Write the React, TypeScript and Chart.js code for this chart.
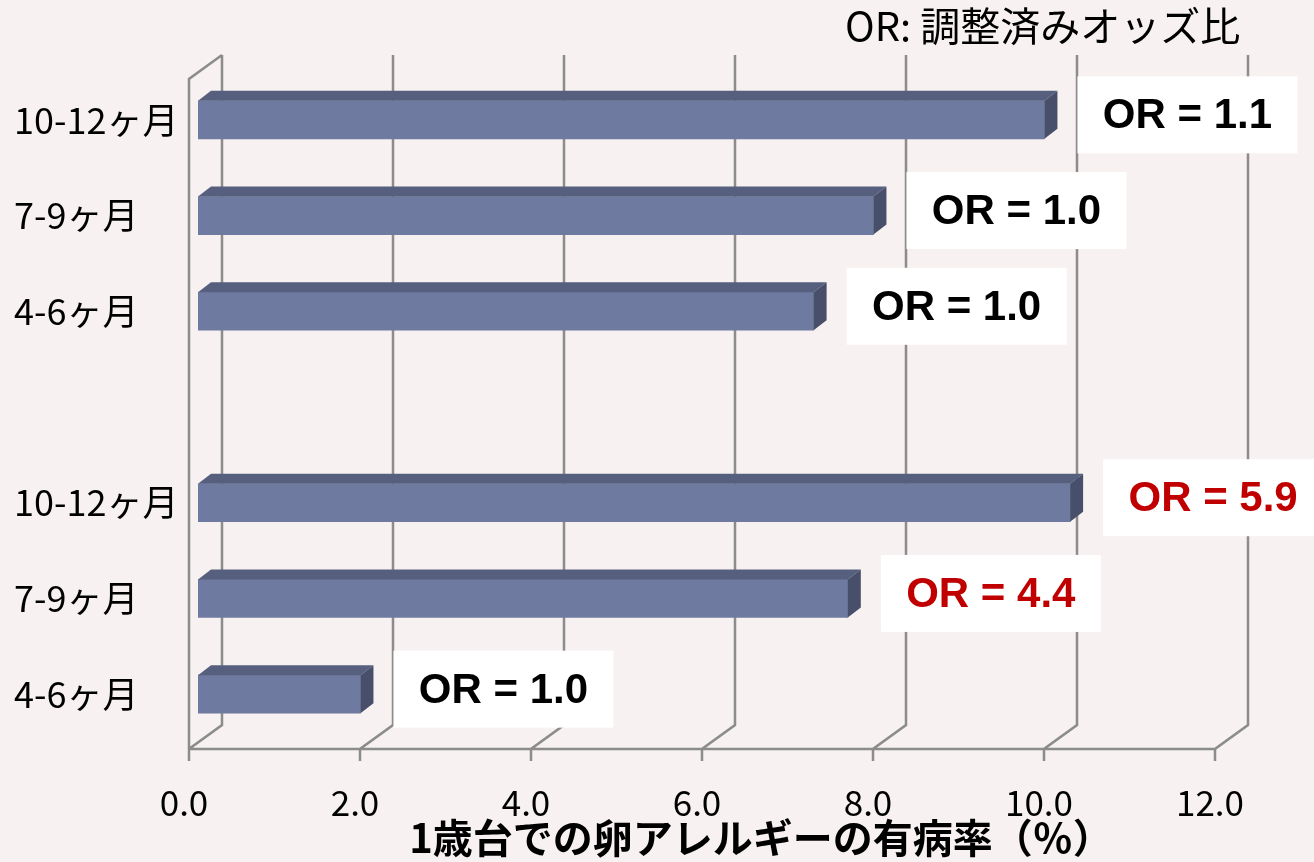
import React, { useEffect, useRef } from "react";
import { Chart, registerables } from "chart.js";

Chart.register(...registerables);

// ---- data ----
const categories = ["10-12ヶ月", "7-9ヶ月", "4-6ヶ月", "", "10-12ヶ月", "7-9ヶ月", "4-6ヶ月"];
const prevalence: (number | null)[] = [9.9, 7.9, 7.2, null, 10.2, 7.6, 1.9];
const orLabels = ["OR = 1.1", "OR = 1.0", "OR = 1.0", "", "OR = 5.9", "OR = 4.4", "OR = 1.0"];
const orSignificant = [false, false, false, false, true, true, false];
const xTicks = [0, 2, 4, 6, 8, 10, 12];
const xTitle = "1歳台での卵アレルギーの有病率（％）";
const noteText = "OR: 調整済みオッズ比";

// ---- style ----
const W = 1314;
const H = 862;
const BG = "#f7f1f1";
const GRID = "#8c8c8c";
const BAR_FRONT = "#6f7aa0";
const BAR_TOP = "#565f7e";
const BAR_SIDE = "#474f6a";
const FRONT = { dx: -9, dy: 7 };
const BACK = { dx: 24, dy: -17 };
const DEPTH = { dx: 13, dy: -10 };
const JP = '"Noto Sans CJK JP", "Noto Sans", sans-serif';

const frame3d = {
  id: "frame3d",
  beforeDraw(chart: any) {
    const { ctx } = chart;
    ctx.save();
    ctx.fillStyle = BG;
    ctx.fillRect(0, 0, chart.width, chart.height);
    ctx.restore();
  },
  beforeDatasetsDraw(chart: any) {
    const { ctx, chartArea: ca } = chart;
    const x = chart.scales.x;
    const backTop = ca.top + BACK.dy;
    const backBottom = ca.bottom + BACK.dy;
    const frontTop = ca.top + FRONT.dy;
    const frontBottom = ca.bottom + FRONT.dy;
    ctx.save();
    ctx.strokeStyle = GRID;
    ctx.lineWidth = 2.5;
    ctx.lineJoin = "miter";
    ctx.beginPath();
    xTicks.forEach((v) => {
      const px = x.getPixelForValue(v);
      ctx.moveTo(px + BACK.dx, backTop);
      ctx.lineTo(px + BACK.dx, backBottom);
      ctx.lineTo(px + FRONT.dx, frontBottom);
      ctx.lineTo(px + FRONT.dx, frontBottom + 12);
    });
    const x0 = x.getPixelForValue(xTicks[0]);
    const xN = x.getPixelForValue(xTicks[xTicks.length - 1]);
    ctx.moveTo(x0 + FRONT.dx, frontBottom);
    ctx.lineTo(xN + FRONT.dx, frontBottom);
    ctx.moveTo(x0 + FRONT.dx, frontBottom);
    ctx.lineTo(x0 + FRONT.dx, frontTop);
    ctx.lineTo(x0 + BACK.dx, backTop);
    ctx.stroke();
    ctx.restore();
  },
  afterDatasetsDraw(chart: any) {
    const { ctx } = chart;
    const meta = chart.getDatasetMeta(0);
    ctx.save();
    meta.data.forEach((el: any, i: number) => {
      if (prevalence[i] == null) return;
      const p = el.getProps(["x", "y", "base", "height"], true);
      const x0 = Math.min(p.base, p.x);
      const x1 = Math.max(p.base, p.x);
      const yT = p.y - p.height / 2;
      const yB = p.y + p.height / 2;
      ctx.fillStyle = BAR_TOP;
      ctx.beginPath();
      ctx.moveTo(x0, yT);
      ctx.lineTo(x0 + DEPTH.dx, yT + DEPTH.dy);
      ctx.lineTo(x1 + DEPTH.dx, yT + DEPTH.dy);
      ctx.lineTo(x1, yT);
      ctx.closePath();
      ctx.fill();
      ctx.fillStyle = BAR_SIDE;
      ctx.beginPath();
      ctx.moveTo(x1, yT);
      ctx.lineTo(x1 + DEPTH.dx, yT + DEPTH.dy);
      ctx.lineTo(x1 + DEPTH.dx, yB + DEPTH.dy);
      ctx.lineTo(x1, yB);
      ctx.closePath();
      ctx.fill();
    });
    meta.data.forEach((el: any, i: number) => {
      if (!orLabels[i]) return;
      const p = el.getProps(["x", "y"], true);
      const bx = p.x + 33;
      const bw = 220;
      const bh = 77;
      const by = p.y - 5 - bh / 2;
      ctx.fillStyle = "#ffffff";
      ctx.fillRect(bx, by, bw, bh);
      ctx.fillStyle = orSignificant[i] ? "#c00000" : "#000000";
      ctx.font = 'bold 42px "Liberation Sans", Arial, sans-serif';
      ctx.textAlign = "center";
      ctx.textBaseline = "middle";
      ctx.fillText(orLabels[i], bx + bw / 2, by + bh / 2 + 2);
    });
    ctx.restore();
  },
  afterDraw(chart: any) {
    const { ctx } = chart;
    ctx.save();
    ctx.fillStyle = "#000";
    ctx.textBaseline = "middle";
    ctx.font = `40px ${JP}`;
    ctx.textAlign = "left";
    ctx.fillText(noteText, 845, 26);
    ctx.font = `bold 40px ${JP}`;
    ctx.textAlign = "center";
    ctx.fillText(xTitle, 761, 838);
    ctx.restore();
  },
};

export default function App() {
  const ref = useRef<HTMLCanvasElement | null>(null);
  useEffect(() => {
    if (!ref.current) return;
    const chart = new Chart(ref.current, {
      type: "bar",
      data: {
        labels: categories,
        datasets: [
          {
            data: prevalence,
            backgroundColor: BAR_FRONT,
            borderWidth: 0,
            barThickness: 38,
          },
        ],
      },
      options: {
        indexAxis: "y",
        animation: false,
        responsive: false,
        devicePixelRatio: 1,
        layout: { padding: { left: 14, right: 90, top: 72, bottom: 0 } },
        plugins: {
          legend: { display: false },
          tooltip: { enabled: false },
          title: { display: false },
        },
        scales: {
          x: {
            min: 0,
            max: 12,
            afterFit: (s: any) => {
              s.height = 120;
            },
            afterBuildTicks: (s: any) => {
              s.ticks = xTicks.map((v) => ({ value: v }));
            },
            grid: { display: false, drawTicks: false },
            border: { display: false },
            ticks: {
              color: "#000",
              font: { family: JP, size: 35 },
              padding: 40,
              labelOffset: -14,
              maxRotation: 0,
              callback: (v: any) => Number(v).toFixed(1),
            },
          },
          y: {
            type: "category",
            afterFit: (s: any) => {
              s.width = 184;
            },
            grid: { display: false, drawTicks: false },
            border: { display: false },
            ticks: {
              color: "#000",
              font: { family: JP, size: 36 },
              crossAlign: "far",
              padding: 0,
              autoSkip: false,
            },
          },
        },
      },
      plugins: [frame3d],
    } as any);
    return () => chart.destroy();
  }, []);
  return (
    <div style={{ position: "fixed", left: 0, top: 0, width: W, height: H, background: BG }}>
      <canvas ref={ref} width={W} height={H} style={{ display: "block" }} />
    </div>
  );
}
